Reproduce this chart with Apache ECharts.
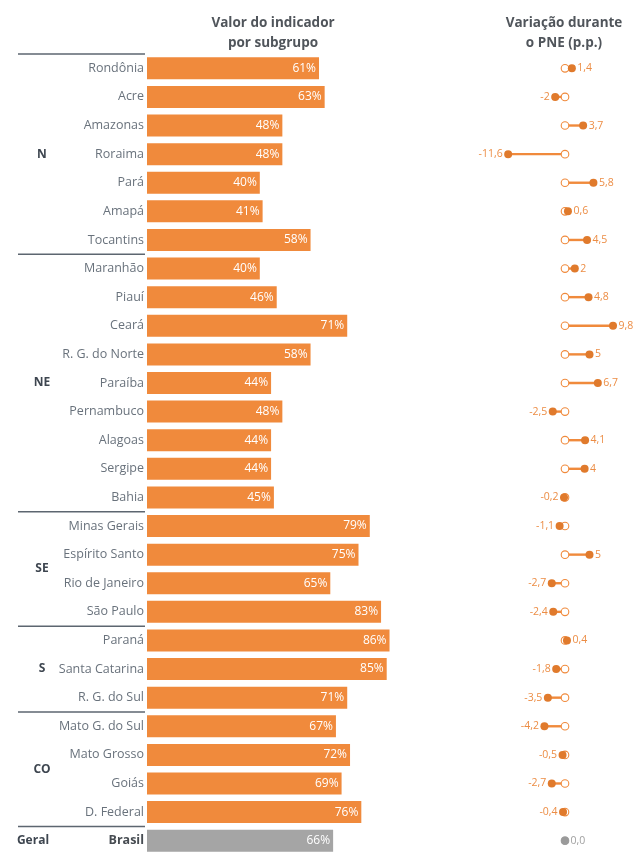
<!DOCTYPE html>
<html>
<head>
<meta charset="utf-8">
<script src="https://cdn.jsdelivr.net/npm/echarts@6/dist/echarts.min.js"></script>
<style>
html,body{margin:0;padding:0;background:#fff;}
#chart{width:638px;height:855px;}
</style>
</head>
<body>
<div id="chart"></div>
<script>
// ---- data ----
const categories = ['Rondônia','Acre','Amazonas','Roraima','Pará','Amapá','Tocantins',
  'Maranhão','Piauí','Ceará','R. G. do Norte','Paraíba','Pernambuco','Alagoas','Sergipe','Bahia',
  'Minas Gerais','Espírito Santo','Rio de Janeiro','São Paulo',
  'Paraná','Santa Catarina','R. G. do Sul',
  'Mato G. do Sul','Mato Grosso','Goiás','D. Federal',
  'Brasil'];
const indicatorValues = [61,63,48,48,40,41,58,
  40,46,71,58,44,48,44,44,45,
  79,75,65,83,
  86,85,71,
  67,72,69,76,
  66];
const variationValues = [1.4,-2,3.7,-11.6,5.8,0.6,4.5,
  2,4.8,9.8,5,6.7,-2.5,4.1,4,-0.2,
  -1.1,5,-2.7,-2.4,
  0.4,-1.8,-3.5,
  -4.2,-0.5,-2.7,-0.4,
  0];
const regionNames = ['N','NE','SE','S','CO','Geral'];
const regionSizes = [7,9,4,3,4,1];
const totalLabel = 'Brasil';

// ---- styles ----
const ORANGE = '#f08a3c';
const ORANGE_DOT = '#e07a2c';
const ORANGE_TXT = '#ec8d45';
const GRAY = '#a5a5a5';
const GRAY_DOT = '#9a9a9a';
const FONT = '"Open Sans", "Noto Sans", sans-serif';

const regionStarts = [];
regionSizes.reduce((acc, s) => { regionStarts.push(acc); return acc + s; }, 0);

function fmt(v) {
  if (Number.isInteger(v) && v !== 0) return String(v);
  return v.toFixed(1).replace('.', ',');
}

const chart = echarts.init(document.getElementById('chart'), null, {renderer: 'canvas'});

const gridTop = 54;
const gridHeight = 803.6;

const option = {
  animation: false,
  backgroundColor: '#ffffff',
  textStyle: {fontFamily: FONT},
  title: [
    {text: 'Valor do indicador\npor subgrupo', left: 268, top: 8, textAlign: 'center',
     textStyle: {fontSize: 13.5, fontWeight: 'bold', color: '#50555b', lineHeight: 20, fontFamily: FONT}},
    {text: 'Variação durante\no PNE (p.p.)', left: 559, top: 8, textAlign: 'center',
     textStyle: {fontSize: 13.5, fontWeight: 'bold', color: '#50555b', lineHeight: 20, fontFamily: FONT}}
  ],
  grid: [
    {left: 147, width: 282, top: gridTop, height: gridHeight},
    {left: 467, width: 166.6, top: gridTop, height: gridHeight}
  ],
  xAxis: [
    {gridIndex: 0, type: 'value', min: 0, max: 100, show: false},
    {gridIndex: 1, type: 'value', min: -20, max: 14, show: false}
  ],
  yAxis: [
    {gridIndex: 0, type: 'category', inverse: true,
     data: categories.map(c => c === totalLabel
        ? {value: c, textStyle: {fontWeight: 'bold', color: '#474c52', fontSize: 12.5}}
        : c),
     axisLine: {show: false}, axisTick: {show: false}, splitLine: {show: false},
     axisLabel: {color: '#69727c', fontSize: 12.5, margin: 3, fontFamily: FONT}},
    {gridIndex: 1, type: 'category', inverse: true, data: categories, show: false}
  ],
  series: [
    {
      type: 'bar', xAxisIndex: 0, yAxisIndex: 0, barWidth: 22,
      data: indicatorValues.map((v, i) => ({
        value: v,
        itemStyle: {color: categories[i] === totalLabel ? GRAY : ORANGE}
      })),
      label: {show: true, position: 'insideRight', distance: 3, color: '#ffffff',
              fontSize: 12, fontFamily: FONT, formatter: p => p.value + '%'}
    },
    {
      // region labels and separators, positioned from the category axis
      type: 'custom', xAxisIndex: 0, yAxisIndex: 0, clip: false,
      data: regionNames.map((n, i) => [0, regionStarts[i], regionSizes[i]]),
      renderItem: function (params, api) {
        const start = api.value(1), size = api.value(2);
        const band = api.size([0, 1])[1];
        const pStart = api.coord([0, start]);
        const pEnd = api.coord([0, start + size - 1]);
        const yTop = pStart[1] - band / 2;
        const yMid = (pStart[1] + pEnd[1]) / 2;
        const name = regionNames[params.dataIndex];
        const isTotal = name === 'Geral';
        return {
          type: 'group',
          children: [
            {type: 'line', shape: {x1: pStart[0] - 129, y1: yTop, x2: pStart[0] - 2, y2: yTop},
             style: {stroke: '#5d6670', lineWidth: 1.5}},
            {type: 'text', x: pStart[0] - (isTotal ? 114 : 105), y: yMid,
             style: {text: name, fill: '#3e4650', font: 'bold 12px ' + FONT,
                     textAlign: 'center', textVerticalAlign: 'middle'}}
          ]
        };
      },
      z: 5
    },
    {
      type: 'custom', xAxisIndex: 1, yAxisIndex: 1, clip: false,
      data: variationValues.map((v, i) => [v, i]),
      encode: {x: 0, y: 1},
      renderItem: function (params, api) {
        const v = api.value(0), idx = api.value(1);
        const p0 = api.coord([0, idx]);
        const p1 = api.coord([v, idx]);
        const isTotal = categories[idx] === totalLabel;
        const lc = isTotal ? GRAY : ORANGE;
        const dc = isTotal ? GRAY_DOT : ORANGE_DOT;
        const tc = isTotal ? '#a0a0a0' : ORANGE_TXT;
        const right = v >= 0;
        return {
          type: 'group',
          children: [
            {type: 'line', shape: {x1: p0[0], y1: p0[1], x2: p1[0], y2: p1[1]},
             style: {stroke: lc, lineWidth: 2.4}},
            {type: 'circle', shape: {cx: p0[0], cy: p0[1], r: 3.8},
             style: {fill: '#ffffff', stroke: lc, lineWidth: 1.1}},
            {type: 'circle', shape: {cx: p1[0], cy: p1[1], r: 4},
             style: {fill: dc}},
            {type: 'text', x: p1[0] + (right ? 5.5 : -5.5), y: p1[1],
             style: {text: fmt(v), fill: tc, font: '10.5px ' + FONT,
                     textAlign: right ? 'left' : 'right', textVerticalAlign: 'middle'}}
          ]
        };
      }
    }
  ]
};
chart.setOption(option);
</script>
</body>
</html>
